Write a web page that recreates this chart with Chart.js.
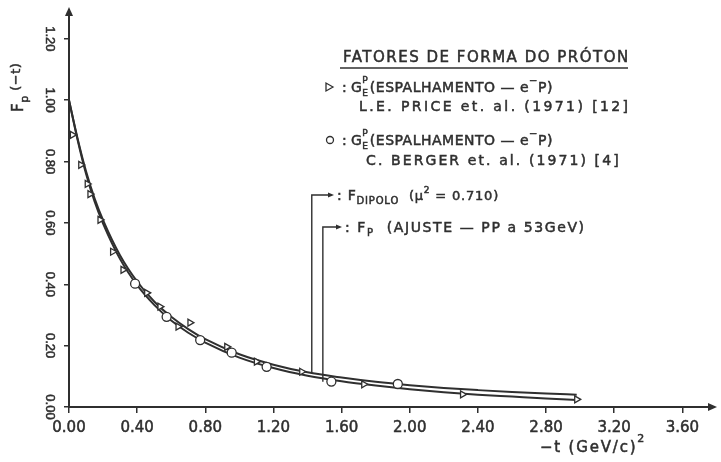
<!DOCTYPE html>
<html><head><meta charset="utf-8">
<script src="https://cdn.jsdelivr.net/npm/chart.js@4.4.1/dist/chart.umd.min.js"></script>
<style>html,body{margin:0;padding:0;background:#fff;}canvas{display:block;}</style>
</head><body>
<canvas id="c" width="721" height="462"></canvas>
<script>
// ---- data ----
const curveT      = [0, 0.05, 0.1, 0.15, 0.2, 0.3, 0.4, 0.5, 0.6, 0.7, 0.8, 1.0, 1.2, 1.4, 1.6, 1.8, 2.0, 2.2, 2.4, 2.6, 2.8, 2.98];
const dipoloF     = [1.00, 0.876, 0.768, 0.680, 0.609, 0.494, 0.409, 0.344, 0.294, 0.254, 0.221, 0.172, 0.138, 0.113, 0.096, 0.082, 0.071, 0.062, 0.055, 0.049, 0.044, 0.040];
const ajusteF     = [1.00, 0.872, 0.760, 0.670, 0.598, 0.482, 0.397, 0.333, 0.282, 0.242, 0.210, 0.161, 0.127, 0.102, 0.084, 0.070, 0.058, 0.048, 0.040, 0.034, 0.028, 0.023];
const priceT      = [0.02, 0.069, 0.107, 0.123, 0.182, 0.256, 0.317, 0.456, 0.534, 0.64, 0.71, 0.926, 1.10, 1.366, 1.73, 2.31, 2.98];
const priceG      = [0.887, 0.789, 0.727, 0.694, 0.61, 0.506, 0.447, 0.372, 0.327, 0.262, 0.275, 0.196, 0.148, 0.115, 0.074, 0.041, 0.025];
const bergerT     = [0.388, 0.573, 0.77, 0.955, 1.16, 1.54, 1.93];
const bergerG     = [0.402, 0.294, 0.218, 0.177, 0.131, 0.083, 0.075];
const xTickValues = [0, 0.4, 0.8, 1.2, 1.6, 2.0, 2.4, 2.8, 3.2, 3.6];
const yTickValues = [0, 0.2, 0.4, 0.6, 0.8, 1.0, 1.2];

const INK = '#2f2f2f';
const FONT = '"DejaVu Sans", sans-serif';
const pts = (xs, ys) => xs.map((x, i) => ({x, y: ys[i]}));

function rich(ctx, parts, x, y, sp) {
  // parts: [text, size, dy]
  for (const [s, size, dy] of parts) {
    ctx.letterSpacing = (sp || 0) + 'px';
    ctx.font = size + 'px ' + FONT;
    ctx.strokeText(s, x, y + (dy || 0));
    ctx.fillText(s, x, y + (dy || 0));
    x += ctx.measureText(s).width;
  }
  return x;
}
function arrowHead(ctx, x, y, dir, len, half) {
  ctx.beginPath();
  if (dir === 'right') { ctx.moveTo(x, y); ctx.lineTo(x - len, y - half); ctx.lineTo(x - len, y + half); }
  else if (dir === 'up') { ctx.moveTo(x, y); ctx.lineTo(x - half, y + len); ctx.lineTo(x + half, y + len); }
  ctx.closePath(); ctx.fill();
}

const decor = {
  id: 'decor',
  afterDraw(chart) {
    const ctx = chart.ctx, xs = chart.scales.x, ys = chart.scales.y, ca = chart.chartArea;
    ctx.save();
    ctx.fillStyle = INK; ctx.strokeStyle = INK;
    ctx.textBaseline = 'alphabetic'; ctx.textAlign = 'left';
    // axis arrows
    arrowHead(ctx, ca.right + 4, ca.bottom, 'right', 9, 4);
    arrowHead(ctx, ca.left, ca.top - 3, 'up', 9, 4);
    ctx.lineWidth = 0.5;
    // x title
    rich(ctx, [['\u2212t (GeV/c)', 15, 0], ['2', 11, -10]], 540, 452, 1.8);
    // y title (rotated)
    ctx.save();
    ctx.translate(23, 112); ctx.rotate(-Math.PI / 2);
    rich(ctx, [['F', 15, 0], ['p', 11, 5], [' (\u2212t)', 13, -3]], 0, 0, 0.5);
    ctx.restore();
    // legend title
    rich(ctx, [['FATORES DE FORMA DO PR\u00D3TON', 15, 0]], 343, 62, 1.5);
    ctx.lineWidth = 1.5;
    ctx.beginPath(); ctx.moveTo(340, 68); ctx.lineTo(628, 68); ctx.stroke();
    ctx.lineWidth = 0.5;
    const gLine = (y) => {
      rich(ctx, [[':', 14, 0]], 342, y, 0);
      const x0 = 351;
      const xg = rich(ctx, [['G', 14, 0]], x0, y, 0);
      rich(ctx, [['P', 9, -9]], xg + 0.5, y, 0);
      rich(ctx, [['E', 9, 4]], xg + 0.5, y, 0);
      rich(ctx, [['(ESPALHAMENTO \u2014 e', 14, 0], ['\u2212', 10, -8], ['P)', 14, 0]], xg + 8, y, 0.5);
    };
    gLine(92);
    rich(ctx, [['L.E. PRICE et. al. (1971) [12]', 14, 0]], 359, 111, 2.4);
    gLine(145);
    rich(ctx, [['C. BERGER et. al. (1971) [4]', 14, 0]], 366, 165, 2.1);
    // legend markers
    ctx.lineWidth = 1.3; ctx.fillStyle = '#fff';
    ctx.beginPath(); ctx.moveTo(333, 87); ctx.lineTo(326, 83); ctx.lineTo(326, 91); ctx.closePath(); ctx.fill(); ctx.stroke();
    ctx.beginPath(); ctx.arc(330, 140, 3.5, 0, Math.PI * 2); ctx.fill(); ctx.stroke();
    ctx.fillStyle = INK;
    // bracket pointers
    ctx.lineWidth = 1.4;
    const d0x = xs.getPixelForValue(1.425), d0y = ys.getPixelForValue(0.112);
    const a0x = xs.getPixelForValue(1.49), a0y = ys.getPixelForValue(0.082);
    ctx.beginPath(); ctx.moveTo(d0x, d0y); ctx.lineTo(d0x, 195); ctx.lineTo(330, 195); ctx.stroke();
    arrowHead(ctx, 334, 195, 'right', 6, 2.5);
    ctx.beginPath(); ctx.moveTo(a0x, a0y); ctx.lineTo(a0x, 227); ctx.lineTo(338, 227); ctx.stroke();
    arrowHead(ctx, 342, 227, 'right', 6, 2.5);
    ctx.lineWidth = 0.5;
    rich(ctx, [[': F', 14, 0], ['DIPOLO', 10, 4], ['  (\u03BC', 13, 0], ['2', 9, -7], [' = 0.710)', 13, 0]], 337, 200, 0.8);
    rich(ctx, [[': F', 14, 0], ['P', 10, 4], ['  (AJUSTE \u2014 PP a 53GeV)', 14, 0]], 345, 232, 1.6);
    ctx.restore();
  }
};

new Chart(document.getElementById('c'), {
  type: 'scatter',
  data: {
    datasets: [
      { type: 'line', data: pts(curveT, dipoloF), borderColor: INK, borderWidth: 2, pointRadius: 0, fill: false, cubicInterpolationMode: 'monotone', order: 2 },
      { type: 'line', data: pts(curveT, ajusteF), borderColor: INK, borderWidth: 2, pointRadius: 0, fill: false, cubicInterpolationMode: 'monotone', order: 2 },
      { data: pts(priceT, priceG), pointStyle: 'triangle', rotation: 90, pointRadius: 4, backgroundColor: '#fff', borderColor: INK, borderWidth: 1.3, order: 0 },
      { data: pts(bergerT, bergerG), pointStyle: 'circle', pointRadius: 4.5, backgroundColor: '#fff', borderColor: INK, borderWidth: 1.3, order: 0 }
    ]
  },
  options: {
    responsive: false, animation: false, devicePixelRatio: 1, events: [],
    layout: { padding: { top: 10, right: 8, left: 0, bottom: 0 } },
    plugins: { legend: { display: false }, tooltip: { enabled: false } },
    scales: {
      x: {
        type: 'linear', min: 0, max: 3.78,
        afterBuildTicks: s => { s.ticks = xTickValues.map(v => ({ value: v })); },
        afterFit: s => { s.height = 55; },
        grid: { drawOnChartArea: false, drawTicks: true, tickLength: 6, color: INK, lineWidth: 1.5 },
        border: { display: true, color: INK, width: 2 },
        ticks: { color: INK, textStrokeColor: INK, textStrokeWidth: 0.5, font: { family: 'DejaVu Sans', size: 15 }, padding: 6, maxRotation: 0, minRotation: 0,
                 callback: v => v.toFixed(2) }
      },
      y: {
        type: 'linear', min: 0, max: 1.294,
        afterBuildTicks: s => { s.ticks = yTickValues.map(v => ({ value: v })); },
        afterFit: s => { s.width = 69; },
        grid: { drawOnChartArea: false, drawTicks: true, tickLength: 5, color: INK, lineWidth: 1.5 },
        border: { display: true, color: INK, width: 2 },
        ticks: { color: INK, textStrokeColor: INK, textStrokeWidth: 0.5, font: { family: 'Liberation Sans', size: 13 }, padding: 2, minRotation: -90, maxRotation: -90, crossAlign: 'center',
                 callback: v => v.toFixed(2) }
      }
    }
  },
  plugins: [decor]
});
</script>
</body></html>
